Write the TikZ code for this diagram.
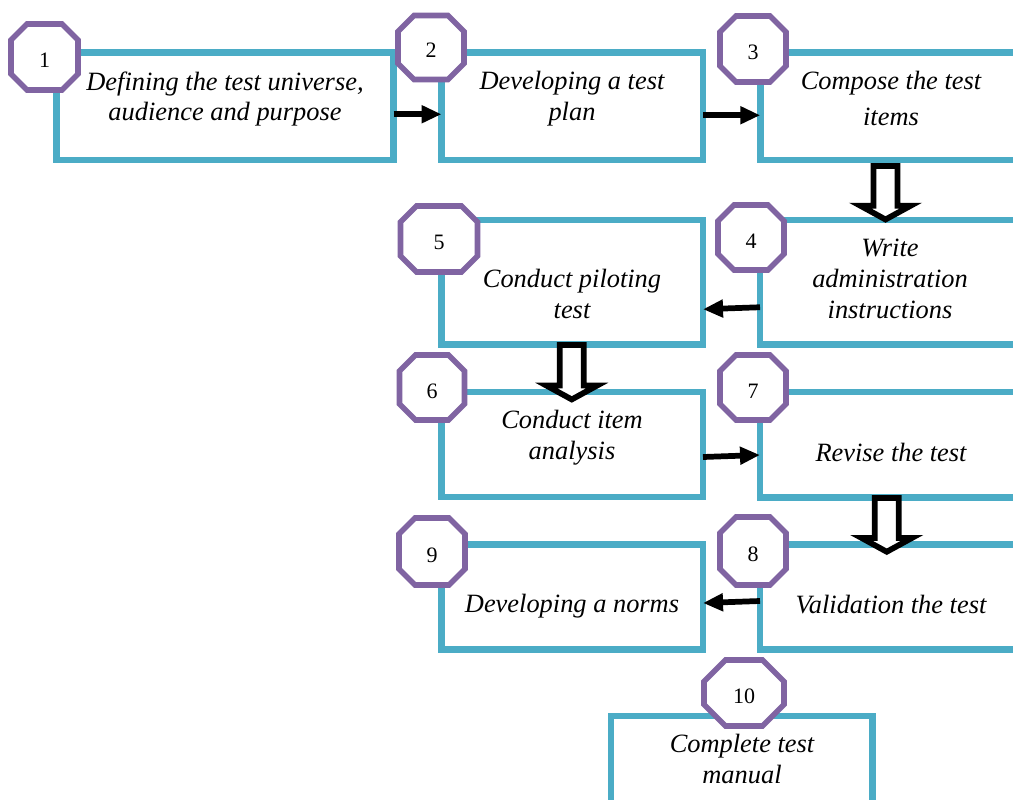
\documentclass[tikz,border=0pt]{standalone}
\usepackage{fontspec}
\setmainfont{Liberation Serif}
\usetikzlibrary{calc,arrows.meta,shapes.misc}
\definecolor{boxteal}{RGB}{75,172,198}
\definecolor{octpurple}{RGB}{128,100,162}
\tikzset{
  sz/.style 2 args={minimum width=#1*0.75pt, minimum height=#2*0.75pt},
  stepbox/.style={draw=boxteal, line width=4.9pt, rectangle, outer sep=0pt, inner sep=0pt},
  octo/.style={chamfered rectangle, chamfered rectangle angle=45,
    chamfered rectangle xsep=13.5pt, chamfered rectangle ysep=13.5pt,
    draw=octpurple, fill=white, line width=4.2pt, inner sep=0pt, outer sep=0pt,
    font=\fontsize{16.5}{18}\selectfont, text height=15.75pt, text depth=0pt},
  lbl/.style={font=\fontsize{19.8}{23}\selectfont\itshape, align=center, inner sep=0pt, anchor=base},
  arr/.style={-{Triangle[length=15pt,width=12.75pt]}, line width=4.3pt, black},
  hollow/.style={draw=black, fill=white, line width=4.3pt, line join=miter}
}
\newcommand\hollowdown[5]{%
  \draw[hollow] let \p1=($(#1.south)+(#3,#4)$), \p2=($(#2.north)+(#3,#5)$) in
    (\x1-9pt,\y1) -- (\x1-9pt,\y2+10.4pt) -- (\x1-19pt,\y2+10.4pt) -- (\x1,\y2)
    -- (\x1+19pt,\y2+10.4pt) -- (\x1+9pt,\y2+10.4pt) -- (\x1+9pt,\y1) -- cycle;}
\begin{document}
\begin{tikzpicture}[x=0.75pt,y=-0.75pt]
\useasboundingbox (0,0) rectangle (1013,799);
\clip (0,0) rectangle (1013,799);
% boxes
\node[stepbox, sz={337}{107.5}]   (b1)  at (225.2,106.25) {};
\node[stepbox, sz={261.5}{107.5}] (b2)  at (572.25,106.25) {};
\node[stepbox, sz={261.5}{107.5}] (b3)  at (891,106.25) {};
\node[stepbox, sz={261.5}{124.5}] (b4)  at (890.75,282.25) {};
\node[stepbox, sz={261.5}{124.5}] (b5)  at (572.25,282.25) {};
\node[stepbox, sz={261.5}{105}]   (b6)  at (572.25,444.5) {};
\node[stepbox, sz={261.5}{105.5}] (b7)  at (890.75,444.75) {};
\node[stepbox, sz={261.5}{105}]   (b8)  at (890.75,597) {};
\node[stepbox, sz={261.5}{105}]   (b9)  at (572.25,597) {};
\node[stepbox, sz={261.5}{105}]   (b10) at (741.75,768.5) {};
% solid arrows
\draw[arr] ($(b1.east)+(0,8)$) -- ($(b2.west)+(0,8)$);
\draw[arr] ($(b2.east)+(0,9)$) -- ($(b3.west)+(0,9)$);
\draw[arr] ($(b4.west)+(0,25)$) -- ($(b5.east)+(0,27)$);
\draw[arr] ($(b6.east)+(0,12.5)$) -- ($(b7.west)+(0,10.25)$);
\draw[arr] ($(b8.west)+(0,4)$) -- ($(b9.east)+(0,6)$);
% hollow arrows
\hollowdown{b3}{b4}{-5.5}{6}{-0.5}
\hollowdown{b5}{b6}{-0.5}{0.5}{7.45}
\hollowdown{b7}{b8}{-4}{0.5}{7.25}
% octagons
\node[octo, sz={67}{66}] (o1)  at (44.5,57)    {1};
\node[octo, sz={66}{64}] (o2)  at (431,47.5)   {2};
\node[octo, sz={66}{66}] (o3)  at (753,49)     {3};
\node[octo, sz={66}{65}] (o4)  at (751,237.5)  {4};
\node[octo, sz={77}{66}] (o5)  at (439,239)    {5};
\node[octo, sz={65}{65}] (o6)  at (432,387.5)  {6};
\node[octo, sz={66}{65}] (o7)  at (753,387.5)  {7};
\node[octo, sz={66}{68}] (o8)  at (753,551)    {8};
\node[octo, sz={66}{67}] (o9)  at (432,551.5)  {9};
\node[octo, sz={80}{66}] (o10) at (744,693)    {10};
% texts (anchor base = last line's baseline)
\node[lbl] (t1)  at (225,120.7) {Defining the test universe,\\audience and purpose};
\node[lbl] (t2)  at (572,120)   {Developing a test\\plan};
\node[lbl] (t3)  at (891,125)   {Compose the test\\[3.4pt]items};
\node[lbl] (t4)  at (890,318.3) {Write\\administration\\instructions};
\node[lbl] (t5)  at (572,318.3) {Conduct piloting\\test};
\node[lbl] (t6)  at (572,459.3) {Conduct item\\analysis};
\node[lbl] (t7)  at (891,461)   {Revise the test};
\node[lbl] (t8)  at (891,613)   {Validation the test};
\node[lbl] (t9)  at (572,612)   {Developing a norms};
\node[lbl] (t10) at (742,783)   {Complete test\\manual};
\end{tikzpicture}
\end{document}
